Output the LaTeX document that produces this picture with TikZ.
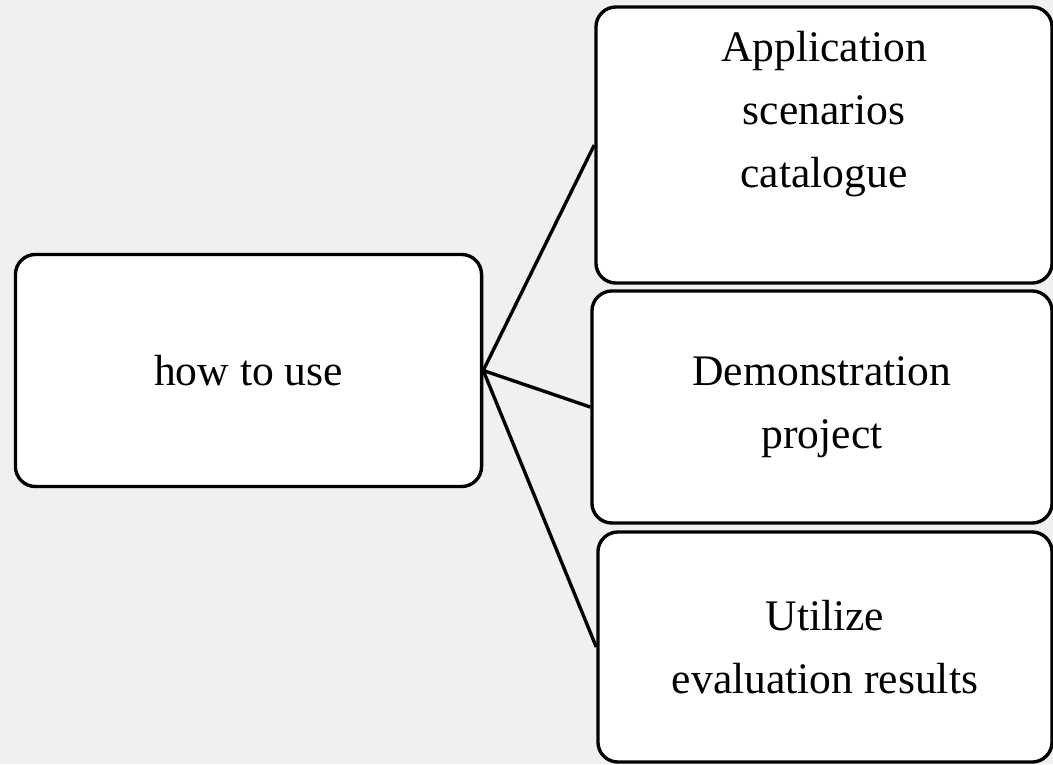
\documentclass[tikz,border=0pt]{standalone}
\usepackage{fontspec}
\setmainfont{Liberation Serif}
\usepackage{xcolor}
\usepackage{tikz}
\usetikzlibrary{positioning}

\definecolor{paper}{RGB}{240,240,240}

\begin{document}
\begin{tikzpicture}[x=0.025cm, y=-0.025cm,
topic/.style={rectangle, draw=black, fill=white, line width=2.4pt, rounded corners=0.5cm, align=center, inner sep=0pt, font=\fontsize{31}{45}\selectfont},
item/.style={topic, minimum width=11.4cm}
]
	\fill[paper] (0,0) rectangle (1053,764);
	\useasboundingbox (0,0) rectangle (1053,764);

	\node[topic, minimum width=11.65cm, minimum height=5.8cm] (n1) at (248.5,370.5) {how to use};
	\node[item, minimum height=6.9cm] (n2) at (824,145) {Application\\ scenarios\\ catalogue\\[0.2cm]};
	\node[item, minimum width=11.5cm, minimum height=5.8cm] (n3) at (822,407) {Demonstration\\ project};
	\node[item, minimum width=11.35cm, minimum height=5.75cm] (n4) at (825,647) {Utilize\\ evaluation results};

	\draw[line width=2.4pt] (n1.east) -- (n2.west);
	\draw[line width=2.4pt] (n1.east) -- (n3.west);
	\draw[line width=2.4pt] (n1.east) -- (n4.west);
\end{tikzpicture}
\end{document}
